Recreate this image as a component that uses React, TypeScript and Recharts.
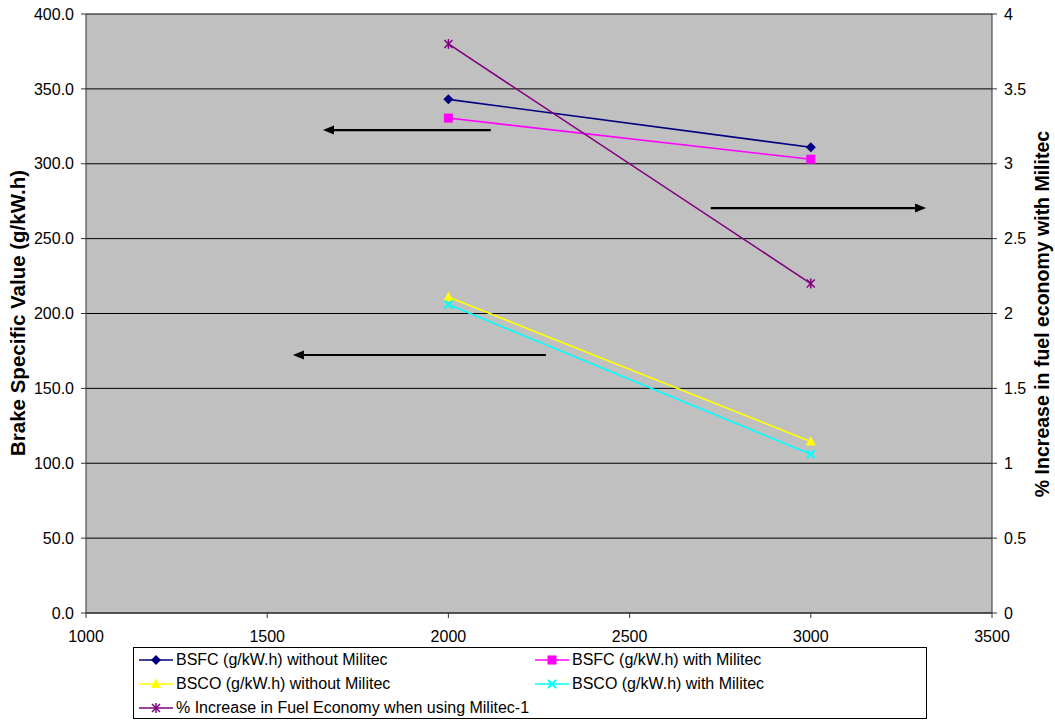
import React from 'react';
import {
  ComposedChart,
  Line,
  XAxis,
  YAxis,
  CartesianGrid,
  ReferenceLine,
} from 'recharts';

// engine speed (rpm)
const rpm = [2000, 3000];
const bsfcWithout = [343, 311];
const bsfcWith = [330.5, 303];
const bscoWithout = [211, 114.5];
const bscoWith = [206, 106];
const economyIncrease = [3.8, 2.2];

const xTicks = [1000, 1500, 2000, 2500, 3000, 3500];
const leftTicks = [0, 50, 100, 150, 200, 250, 300, 350, 400];
const rightTicks = [0, 0.5, 1, 1.5, 2, 2.5, 3, 3.5, 4];

// annotation arrows, in data units of the left axis (from -> to)
const arrowFrom = [
  [2117, 322.5],
  [2724, 270.4],
  [2269, 172.3],
];
const arrowTo = [
  [1654, 322.5],
  [3318, 270.4],
  [1571, 172.3],
];

const data = rpm.map((r, i) => ({
  rpm: r,
  bsfcWithout: bsfcWithout[i],
  bsfcWith: bsfcWith[i],
  bscoWithout: bscoWithout[i],
  bscoWith: bscoWith[i],
  economy: economyIncrease[i],
}));

const FONT = '"Liberation Sans", Arial, sans-serif';

type MarkerKind = 'diamond' | 'square' | 'triangle' | 'x' | 'star';

const Marker = ({ kind, cx, cy, color }: { kind: MarkerKind; cx: number; cy: number; color: string }) => {
  switch (kind) {
    case 'diamond':
      return <polygon points={`${cx},${cy - 5} ${cx + 5},${cy} ${cx},${cy + 5} ${cx - 5},${cy}`} fill={color} />;
    case 'square':
      return <rect x={cx - 4.5} y={cy - 4.5} width={9} height={9} fill={color} />;
    case 'triangle':
      return <polygon points={`${cx},${cy - 5.5} ${cx + 5},${cy + 4} ${cx - 5},${cy + 4}`} fill={color} />;
    case 'x':
      return (
        <g stroke={color} strokeWidth={2}>
          <line x1={cx - 4} y1={cy - 4} x2={cx + 4} y2={cy + 4} />
          <line x1={cx - 4} y1={cy + 4} x2={cx + 4} y2={cy - 4} />
        </g>
      );
    default:
      return (
        <g stroke={color} strokeWidth={1.5}>
          <line x1={cx - 4} y1={cy - 4} x2={cx + 4} y2={cy + 4} />
          <line x1={cx - 4} y1={cy + 4} x2={cx + 4} y2={cy - 4} />
          <line x1={cx} y1={cy - 5} x2={cx} y2={cy + 5} />
        </g>
      );
  }
};

const series: { key: string; name: string; color: string; marker: MarkerKind; axis: string }[] = [
  { key: 'bsfcWithout', name: 'BSFC (g/kW.h) without Militec', color: '#000080', marker: 'diamond', axis: 'left' },
  { key: 'bsfcWith', name: 'BSFC (g/kW.h) with Militec', color: '#FF00FF', marker: 'square', axis: 'left' },
  { key: 'bscoWithout', name: 'BSCO (g/kW.h) without Militec', color: '#FFFF00', marker: 'triangle', axis: 'left' },
  { key: 'bscoWith', name: 'BSCO (g/kW.h) with Militec', color: '#00FFFF', marker: 'x', axis: 'left' },
  { key: 'economy', name: '% Increase in Fuel Economy when using Militec-1', color: '#800080', marker: 'star', axis: 'right' },
];

const Arrow = (props: any) => {
  const { x1, y1, x2, y2 } = props;
  const dir = x2 > x1 ? 1 : -1;
  const head = 11;
  return (
    <g>
      <line x1={x1} y1={y1} x2={x2 - dir * head} y2={y2} stroke="#000" strokeWidth={2.2} />
      <polygon points={`${x2},${y2} ${x2 - dir * head},${y2 - 4.5} ${x2 - dir * head},${y2 + 4.5}`} fill="#000" />
    </g>
  );
};

const tickStyle = { fill: '#000', fontSize: 16, fontFamily: FONT };

export default function App() {
  return (
    <div style={{ position: 'relative', width: 1055, height: 721, background: '#fff', fontFamily: FONT }}>
      <style>{`body{margin:0}`}</style>
      <ComposedChart width={1055} height={721} data={data} margin={{ top: 14, right: 0, bottom: 0, left: 0 }}>
        <CartesianGrid yAxisId="left" vertical={false} stroke="#000" fill="#C0C0C0" fillOpacity={1} />
        <XAxis
          dataKey="rpm"
          type="number"
          domain={[1000, 3500]}
          ticks={xTicks}
          height={108}
          tick={tickStyle}
          tickSize={5}
          tickMargin={13}
          stroke="#333"
          interval={0}
        />
        <YAxis
          yAxisId="left"
          domain={[0, 400]}
          ticks={leftTicks}
          width={86}
          tick={tickStyle}
          tickSize={5}
          tickMargin={7}
          stroke="#333"
          tickFormatter={(v) => v.toFixed(1)}
          interval={0}
        />
        <YAxis
          yAxisId="right"
          orientation="right"
          domain={[0, 4]}
          ticks={rightTicks}
          width={63}
          tick={tickStyle}
          tickSize={5}
          tickMargin={7}
          stroke="#333"
          interval={0}
        />
        {series.map((s) => (
          <Line
            key={s.key}
            yAxisId={s.axis}
            type="linear"
            dataKey={s.key}
            name={s.name}
            stroke={s.color}
            strokeWidth={1.6}
            isAnimationActive={false}
            activeDot={false}
            dot={(p: any) => <Marker key={`${s.key}-${p.index}`} kind={s.marker} cx={p.cx} cy={p.cy} color={s.color} />}
          />
        ))}
        {arrowFrom.map((f, i) => (
          <ReferenceLine
            key={`arrow-${i}`}
            yAxisId="left"
            segment={[
              { x: f[0], y: f[1] },
              { x: arrowTo[i][0], y: arrowTo[i][1] },
            ]}
            shape={Arrow}
          />
        ))}
      </ComposedChart>

      <div
        style={{
          position: 'absolute',
          left: 18,
          top: 313,
          transform: 'translate(-50%, -50%) rotate(-90deg)',
          whiteSpace: 'nowrap',
          fontWeight: 'bold',
          fontSize: 20.5,
        }}
      >
        Brake Specific Value (g/kW.h)
      </div>
      <div
        style={{
          position: 'absolute',
          left: 1042,
          top: 314,
          transform: 'translate(-50%, -50%) rotate(-90deg)',
          whiteSpace: 'nowrap',
          fontWeight: 'bold',
          fontSize: 19.5,
        }}
      >
        % Increase in fuel economy with Militec
      </div>

      <div
        style={{
          position: 'absolute',
          left: 133,
          top: 647,
          width: 794,
          height: 72,
          border: '1px solid #000',
          boxSizing: 'border-box',
          background: '#fff',
        }}
      >
        {series.map((s, i) => {
          const col = i % 2;
          const row = Math.floor(i / 2);
          return (
            <div
              key={s.key}
              style={{
                position: 'absolute',
                left: col === 0 ? 4 : 400,
                top: 3 + row * 24,
                height: 18,
                display: 'flex',
                alignItems: 'center',
                whiteSpace: 'nowrap',
                fontSize: 16,
              }}
            >
              <svg width={36} height={18}>
                <line x1={1} y1={9} x2={35} y2={9} stroke={s.color} strokeWidth={1.6} />
                <Marker kind={s.marker} cx={18} cy={9} color={s.color} />
              </svg>
              <span style={{ marginLeft: 2 }}>{s.name}</span>
            </div>
          );
        })}
      </div>
    </div>
  );
}
